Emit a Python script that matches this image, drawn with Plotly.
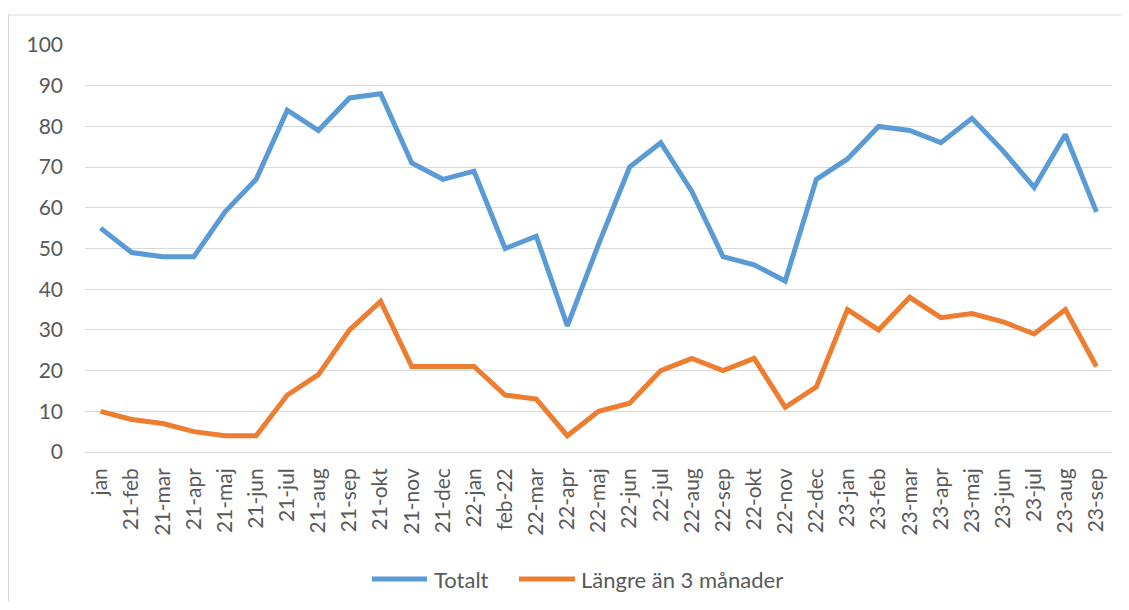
import plotly.graph_objects as go

categories = ["jan", "21-feb", "21-mar", "21-apr", "21-maj", "21-jun", "21-jul", "21-aug",
              "21-sep", "21-okt", "21-nov", "21-dec", "22-jan", "feb-22", "22-mar", "22-apr",
              "22-maj", "22-jun", "22-jul", "22-aug", "22-sep", "22-okt", "22-nov", "22-dec",
              "23-jan", "23-feb", "23-mar", "23-apr", "23-maj", "23-jun", "23-jul", "23-aug",
              "23-sep"]
totalt = [55, 49, 48, 48, 59, 67, 84, 79, 87, 88, 71, 67, 69, 50, 53, 31,
          51, 70, 76, 64, 48, 46, 42, 67, 72, 80, 79, 76, 82, 74, 65, 78, 59]
langre = [10, 8, 7, 5, 4, 4, 14, 19, 30, 37, 21, 21, 21, 14, 13, 4,
          10, 12, 20, 23, 20, 23, 11, 16, 35, 30, 38, 33, 34, 32, 29, 35, 21]
y_ticks = [0, 10, 20, 30, 40, 50, 60, 70, 80, 90, 100]
series_names = ["Totalt", "Längre än 3 månader"]
series_colors = ["#5B9BD5", "#ED7D31"]

# page body has an 8px margin; figure coordinates are page coordinates minus 8
OFF = 8
W, H = 1113, 594
L, T = 85 - OFF, 45 - OFF
R = W - (1112 - OFF)
B = H - (452 - OFF)
pw, ph = W - L - R, H - T - B


def px_x(page_x):
    return (page_x - OFF - L) / pw


def px_y(page_y):
    return (H - (page_y - OFF) - B) / ph


fig = go.Figure()
for name, vals, col in zip(series_names, [totalt, langre], series_colors):
    fig.add_trace(go.Scatter(x=categories, y=vals, mode="lines", name=name,
                             line=dict(color=col, width=5, shape="linear"),
                             showlegend=False))

font_family = "Lato, 'Open Sans', sans-serif"
text_color = "#595959"

# legend drawn manually (Excel-style long legend lines)
legend_y = 579
legend_items = [(372, 427, 432), (519, 575, 579)]
shapes = [
    dict(type="line", xref="paper", yref="paper",
         x0=px_x(OFF), x1=px_x(1129), y0=px_y(15), y1=px_y(15),
         line=dict(color="#D9D9D9", width=1)),
    dict(type="line", xref="paper", yref="paper",
         x0=px_x(OFF + 0.5), x1=px_x(OFF + 0.5), y0=px_y(15), y1=px_y(610),
         line=dict(color="#D9D9D9", width=1)),
]
annotations = []
for (lx0, lx1, tx), name, col in zip(legend_items, series_names, series_colors):
    shapes.append(dict(type="line", xref="paper", yref="paper",
                       x0=px_x(lx0), x1=px_x(lx1), y0=px_y(legend_y), y1=px_y(legend_y),
                       line=dict(color=col, width=5)))
    annotations.append(dict(xref="paper", yref="paper", x=px_x(tx), y=px_y(legend_y),
                            xanchor="left", yanchor="middle", text=name, showarrow=False,
                            font=dict(size=22, color=text_color, family=font_family)))

fig.update_layout(
    width=W, height=H,
    margin=dict(l=L, r=R, t=T, b=B, pad=0),
    paper_bgcolor="white", plot_bgcolor="white",
    font=dict(family=font_family, size=21, color=text_color),
    showlegend=False,
    xaxis=dict(type="category", tickangle=-90, showgrid=False, zeroline=False,
               showline=False, ticks="", tickfont=dict(size=21, color=text_color),
               ticklabelstandoff=11,
               range=[-0.5, len(categories) - 0.5], fixedrange=True),
    yaxis=dict(range=[0, 100], tickvals=y_ticks, showgrid=True, gridcolor="#D9D9D9",
               gridwidth=1.3, zeroline=True, zerolinecolor="#D9D9D9", zerolinewidth=1.3,
               showline=False, ticks="", ticklabelstandoff=21,
               tickfont=dict(size=21, color=text_color), fixedrange=True),
    shapes=shapes,
    annotations=annotations,
)

fig.write_html("out.html")
